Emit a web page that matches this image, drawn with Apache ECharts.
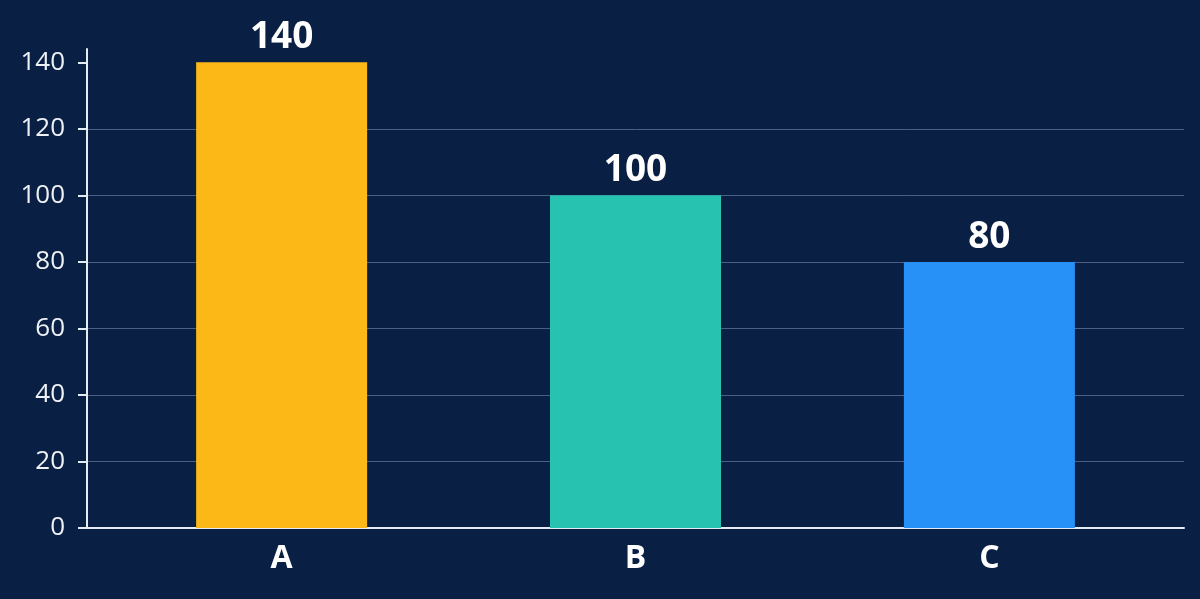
<!DOCTYPE html>
<html>
<head>
<meta charset="utf-8">
<title>Bar chart</title>
<script src="https://cdn.jsdelivr.net/npm/echarts@6/dist/echarts.min.js"></script>
<style>
  html, body { margin: 0; padding: 0; background: #0a1f44; }
  #chart { width: 1200px; height: 599px; }
</style>
</head>
<body>
<div id="chart"></div>
<script>
// data
var categories = ['A', 'B', 'C'];
var values = [140, 100, 80];
var barColors = ['#fbb817', '#27c2b0', '#2891f7'];
var yTicks = [0, 20, 40, 60, 80, 100, 120, 140];

var chart = echarts.init(document.getElementById('chart'));
window.addEventListener('resize', function () { chart.resize(); });

// x is a value axis so the bars sit in the middle of a slightly wider axis line
var points = values.map(function (v, i) {
  return { value: [i, v], itemStyle: { color: barColors[i] } };
});

var option = {
  backgroundColor: '#0a1f44',
  animation: false,
  grid: { left: 87, right: 16, top: 49, bottom: 71 },
  xAxis: {
    type: 'value',
    min: -0.55,
    max: 2.55,
    axisLine: { show: true, onZero: false, lineStyle: { color: '#e6ebf3', width: 2 } },
    axisTick: { show: false },
    splitLine: { show: false },
    axisLabel: {
      customValues: [0, 1, 2],
      formatter: function (v) { return categories[Math.round(v)]; },
      color: '#ffffff',
      fontFamily: 'Open Sans',
      fontWeight: 'bold',
      fontSize: 32,
      margin: 15
    }
  },
  yAxis: {
    type: 'value',
    min: 0,
    max: 144,
    interval: 20,
    axisLine: { show: true, onZero: false, lineStyle: { color: '#e6ebf3', width: 2 } },
    axisTick: { show: true, length: 9, customValues: yTicks, lineStyle: { color: '#e6ebf3', width: 2 } },
    axisLabel: {
      customValues: yTicks,
      color: '#eef1f6',
      fontFamily: 'Open Sans',
      fontSize: 26,
      margin: 22
    },
    splitLine: { show: true, showMaxLine: false, lineStyle: { color: '#4b5f86', width: 1 } }
  },
  series: [{
    type: 'bar',
    barWidth: 171,
    data: points,
    label: {
      show: true,
      position: 'top',
      distance: 6,
      formatter: function (p) { return p.value[1]; },
      color: '#ffffff',
      fontFamily: 'Open Sans',
      fontWeight: 'bold',
      fontSize: 37
    }
  }]
};

chart.setOption(option);
</script>
</body>
</html>
